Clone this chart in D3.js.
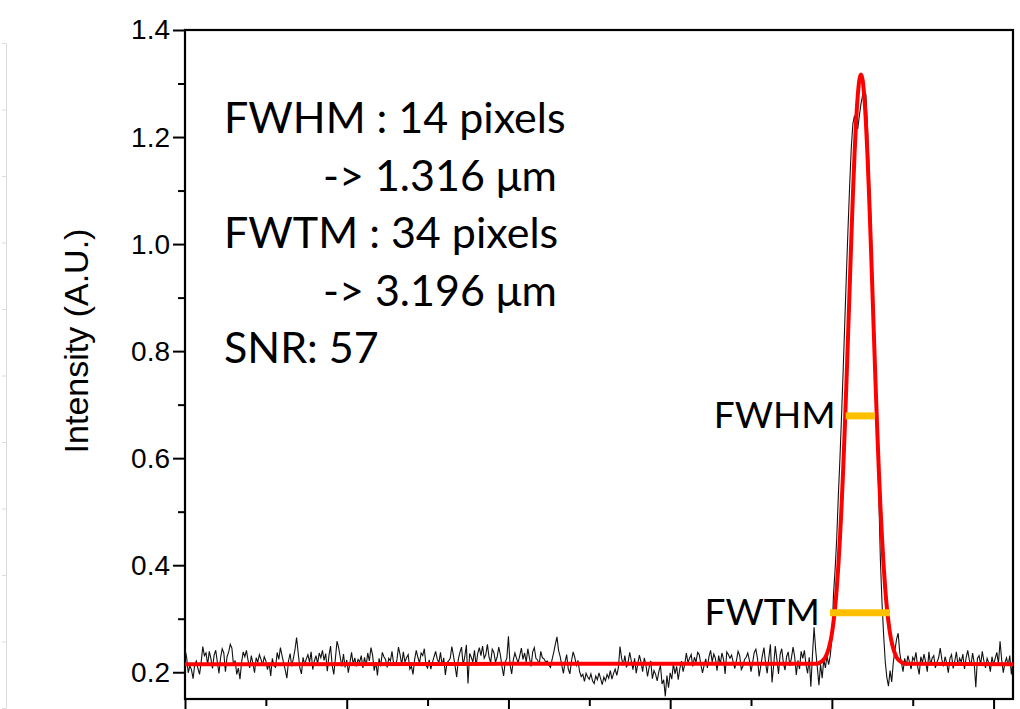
<!DOCTYPE html>
<html>
<head>
<meta charset="utf-8">
<script src="https://cdn.jsdelivr.net/npm/d3@7"></script>
<style>
  html, body { margin: 0; padding: 0; background: #fff; }
  svg { display: block; }
</style>
</head>
<body>
<script>
// line profile across the spot, one value per pixel index
const intensity = [
  0.243,0.228,0.199,0.212,0.205,0.188,0.214,0.221,0.207,0.196,0.219,0.248,0.231,0.236,0.214,0.239,0.226,0.207,0.232,0.241,
  0.219,0.198,0.227,0.244,0.236,0.201,0.229,0.238,0.252,0.245,0.213,0.222,0.196,0.208,0.187,0.219,0.238,0.229,0.241,0.222,
  0.208,0.231,0.216,0.199,0.227,0.219,0.233,0.224,0.214,0.229,0.221,0.205,0.218,0.193,0.226,0.212,0.209,0.237,0.224,0.246,
  0.231,0.217,0.204,0.189,0.221,0.235,0.211,0.226,0.242,0.265,0.236,0.208,0.197,0.228,0.214,0.225,0.233,0.219,0.238,0.205,
  0.221,0.231,0.216,0.236,0.227,0.241,0.222,0.235,0.202,0.231,0.249,0.213,0.196,0.226,0.258,0.246,0.228,0.211,0.234,0.209,
  0.223,0.199,0.218,0.237,0.215,0.227,0.211,0.224,0.219,0.231,0.208,0.228,0.212,0.236,0.221,0.246,0.232,0.203,0.219,0.194,
  0.226,0.211,0.237,0.229,0.224,0.209,0.226,0.221,0.239,0.216,0.213,0.222,0.247,0.233,0.214,0.238,0.219,0.227,0.233,0.206,
  0.211,0.196,0.224,0.241,0.228,0.217,0.236,0.231,0.244,0.213,0.208,0.223,0.206,0.218,0.229,0.239,0.224,0.218,0.237,0.212,
  0.227,0.195,0.218,0.221,0.226,0.248,0.231,0.212,0.191,0.224,0.237,0.247,0.213,0.229,0.251,0.179,0.235,0.228,0.219,0.241,
  0.212,0.235,0.246,0.231,0.249,0.226,0.233,0.252,0.228,0.218,0.243,0.237,0.219,0.228,0.247,0.233,0.211,0.193,0.219,0.226,
  0.267,0.214,0.197,0.223,0.236,0.226,0.218,0.231,0.245,0.224,0.236,0.219,0.244,0.227,0.211,0.238,0.246,0.226,0.223,0.214,
  0.239,0.227,0.225,0.219,0.221,0.213,0.209,0.224,0.237,0.252,0.266,0.241,0.229,0.213,0.198,0.219,0.233,0.206,0.197,0.221,
  0.238,0.228,0.213,0.222,0.201,0.192,0.196,0.183,0.198,0.191,0.187,0.197,0.184,0.179,0.193,0.186,0.199,0.188,0.177,0.191,
  0.184,0.196,0.189,0.203,0.187,0.198,0.206,0.194,0.209,0.248,0.226,0.213,0.231,0.209,0.219,0.237,0.221,0.205,0.226,0.198,
  0.216,0.232,0.219,0.201,0.227,0.214,0.192,0.209,0.221,0.188,0.203,0.196,0.184,0.201,0.213,0.178,0.186,0.155,0.194,0.171,
  0.199,0.187,0.216,0.197,0.211,0.186,0.207,0.221,0.201,0.214,0.236,0.218,0.226,0.233,0.211,0.228,0.219,0.237,0.233,0.214,
  0.199,0.213,0.225,0.208,0.229,0.241,0.219,0.234,0.226,0.203,0.231,0.215,0.236,0.224,0.197,0.238,0.233,0.226,0.232,0.219,
  0.207,0.222,0.239,0.231,0.205,0.211,0.224,0.228,0.236,0.222,0.201,0.218,0.237,0.243,0.226,0.192,0.211,0.231,0.246,0.217,
  0.198,0.227,0.252,0.181,0.213,0.249,0.224,0.197,0.233,0.244,0.218,0.204,0.229,0.238,0.212,0.227,0.247,0.229,0.195,0.222,
  0.206,0.239,0.226,0.241,0.214,0.198,0.228,0.173,0.232,0.284,0.241,0.209,0.176,0.215,0.189,0.224,0.208,0.231,0.214,0.231,
  0.262,0.345,0.392,0.450,0.530,0.600,0.680,0.765,0.855,0.945,1.030,1.110,1.180,1.225,1.240,1.225,1.215,1.240,1.262,1.278,
  1.285,1.280,1.220,1.140,1.060,0.965,0.860,0.760,0.650,0.530,0.410,0.330,0.270,0.220,0.190,0.174,0.203,0.182,0.219,0.241,
  0.262,0.273,0.236,0.218,0.201,0.226,0.212,0.231,0.219,0.206,0.228,0.222,0.237,0.211,0.196,0.229,0.218,0.234,0.219,0.201,
  0.238,0.214,0.226,0.231,0.208,0.219,0.227,0.245,0.224,0.211,0.229,0.217,0.199,0.226,0.233,0.207,0.221,0.238,0.212,0.226,
  0.219,0.234,0.206,0.227,0.241,0.223,0.212,0.236,0.218,0.172,0.226,0.231,0.214,0.239,0.221,0.208,0.226,0.218,0.201,0.229,
  0.214,0.226,0.237,0.216,0.258,0.223,0.199,0.218,0.227,0.212,0.231,0.196,0.221
];

// gaussian fit, sampled around the peak
const fitX = [0,
  390,391,392,393,394,395,396,397,398,399,400,401,402,403,404,405,406,407,408,409,
  410,411,412,413,414,415,416,417,418,419,420,421,422,423,424,425,426,427,428,429,
  430,431,432,433,434,435,436,437,438,439,440,441,442,443,444,445,446,
  512];
const fitY = [0.215,
  0.216,0.216,0.217,0.219,0.221,0.224,0.228,0.235,0.244,0.256,0.272,0.294,0.321,0.356,0.399,0.451,0.511,0.580,0.657,0.741,
  0.829,0.919,1.008,1.092,1.167,1.230,1.277,1.307,1.317,1.307,1.277,1.230,1.167,1.092,1.008,0.919,0.829,0.741,0.657,0.580,
  0.511,0.451,0.399,0.356,0.321,0.294,0.272,0.256,0.244,0.235,0.228,0.224,0.221,0.219,0.217,0.216,0.216,
  0.215];

// width markers
const markerNames = ["FWHM", "FWTM"];
const markerFrom = [408.5, 398.8];
const markerTo = [426.7, 435.9];
const markerLevel = [0.679, 0.311];

const infoLines = ["FWHM : 14 pixels", "-> 1.316 \u03bcm", "FWTM : 34 pixels", "-> 3.196 \u03bcm", "SNR: 57"];
const infoIndent = [0, 1, 0, 1, 0];

const yMajor = [0.2, 0.4, 0.6, 0.8, 1.0, 1.2, 1.4];
const yMinor = [0.3, 0.5, 0.7, 0.9, 1.1, 1.3];
const xMajor = [0, 100, 200, 300, 400, 500];
const xMinor = [50, 150, 250, 350, 450];

const width = 1020, height = 709;
const plot = { left: 185, right: 1013, top: 30, bottom: 699 };

const svg = d3.select('body').append('svg')
    .attr('width', width)
    .attr('height', height)
    .style('background', '#fff');

const x = d3.scaleLinear().domain([0, 512]).range([plot.left, plot.right]);
const y = d3.scaleLinear().domain([0.15, 1.4]).range([plot.bottom, plot.top]);

// faint edge of the neighbouring panel
const ghost = d3.scaleLinear().domain([0, 10]).range([43, 708]);
const ghostAxis = svg.append('g')
    .attr('transform', 'translate(6,0)')
    .call(d3.axisLeft(ghost).ticks(10).tickSize(4).tickSizeOuter(0).tickFormat(''));
ghostAxis.selectAll('path, line').attr('stroke', '#dcdcdc');

// y axis, major + minor ticks outward
svg.append('g')
    .attr('transform', `translate(${plot.left},0)`)
    .call(d3.axisLeft(y).tickValues(yMinor).tickSize(7).tickFormat(''))
    .call(g => g.select('.domain').remove())
    .selectAll('line').attr('stroke', '#000').attr('stroke-width', 2);

const yAxis = svg.append('g')
    .attr('transform', `translate(${plot.left},0)`)
    .call(d3.axisLeft(y).tickValues(yMajor).tickSize(12).tickPadding(3).tickFormat(d3.format('.1f')));
yAxis.select('.domain').remove();
yAxis.selectAll('line').attr('stroke', '#000').attr('stroke-width', 2);
yAxis.selectAll('text')
    .attr('fill', '#000')
    .style('font-family', '"Liberation Sans", Arial, sans-serif')
    .style('font-size', '28px');

// x axis ticks (labels fall outside the picture)
svg.append('g')
    .attr('transform', `translate(0,${plot.bottom})`)
    .call(d3.axisBottom(x).tickValues(xMinor).tickSize(7).tickFormat(''))
    .call(g => g.select('.domain').remove())
    .selectAll('line').attr('stroke', '#000').attr('stroke-width', 2);
svg.append('g')
    .attr('transform', `translate(0,${plot.bottom})`)
    .call(d3.axisBottom(x).tickValues(xMajor).tickSize(12).tickFormat(''))
    .call(g => g.select('.domain').remove())
    .selectAll('line').attr('stroke', '#000').attr('stroke-width', 2);

// frame
svg.append('rect')
    .attr('x', plot.left).attr('y', plot.top)
    .attr('width', plot.right - plot.left).attr('height', plot.bottom - plot.top)
    .attr('fill', 'none').attr('stroke', '#000').attr('stroke-width', 2.2);

svg.append('text')
    .attr('transform', 'translate(88,341) rotate(-90)')
    .attr('text-anchor', 'middle')
    .style('font-family', '"Liberation Sans", Arial, sans-serif')
    .style('font-size', '34px')
    .text('Intensity (A.U.)');

// data
const raw = d3.line()
    .x((d, i) => x(i))
    .y(d => y(d));
svg.append('path')
    .datum(intensity)
    .attr('d', raw)
    .attr('fill', 'none')
    .attr('stroke', '#111')
    .attr('stroke-width', 1.1);

const fit = d3.line()
    .x(d => x(d[0]))
    .y(d => y(d[1]))
    .curve(d3.curveMonotoneX);
svg.append('path')
    .datum(d3.zip(fitX, fitY))
    .attr('d', fit)
    .attr('fill', 'none')
    .attr('stroke', '#ff0000')
    .attr('stroke-width', 4)
    .attr('stroke-linejoin', 'round');

// FWHM / FWTM bars
const markers = markerNames.map((name, i) => ({ name, from: markerFrom[i], to: markerTo[i], level: markerLevel[i] }));
svg.selectAll('.bar')
    .data(markers)
    .enter().append('line')
    .attr('class', 'bar')
    .attr('x1', d => x(d.from))
    .attr('x2', d => x(d.to))
    .attr('y1', d => y(d.level))
    .attr('y2', d => y(d.level))
    .attr('stroke', '#ffc000')
    .attr('stroke-width', 7);

svg.selectAll('.barLabel')
    .data(markers)
    .enter().append('text')
    .attr('class', 'barLabel')
    .attr('x', d => x(d.from) - 10)
    .attr('y', d => y(d.level) + 12)
    .attr('text-anchor', 'end')
    .style('font-family', 'Lato, "Open Sans", sans-serif')
    .style('font-size', '37px')
    .text(d => d.name);

// info block
svg.selectAll('.info')
    .data(infoLines)
    .enter().append('text')
    .attr('class', 'info')
    .attr('x', (d, i) => infoIndent[i] ? 323 : 224)
    .attr('y', (d, i) => 133 + i * 57.5)
    .style('font-family', 'Lato, "Open Sans", sans-serif')
    .style('font-size', '43px')
    .text(d => d);
</script>
</body>
</html>
